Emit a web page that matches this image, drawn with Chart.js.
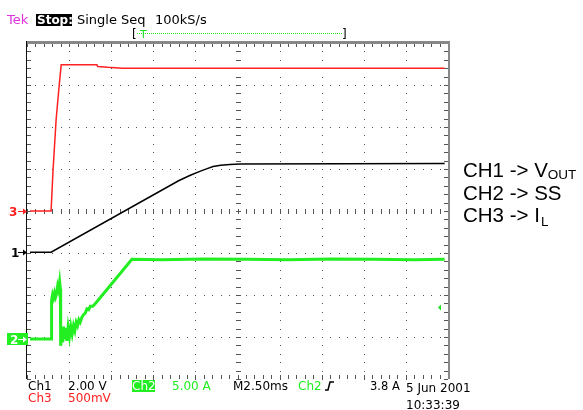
<!DOCTYPE html>
<html>
<head>
<meta charset="utf-8">
<script src="https://cdn.jsdelivr.net/npm/chart.js@4.4.0/dist/chart.umd.min.js"></script>
<style>
  html, body { margin: 0; padding: 0; background: #fff; }
  #wrap { width: 583px; height: 410px; }
</style>
</head>
<body>
<div id="wrap"><canvas id="scopeChart" width="583" height="410"></canvas></div>
<script>
// time axis in ms from the left edge of the screen (M 2.50ms per division)
var msPerDiv = 2.5;

// Ch1 (black), volts
var ch1Time  = [0.18, 1.43, 9.0, 9.7, 10.3, 10.7, 11.05, 11.5, 12.05, 12.65, 24.8];
var ch1Volts = [0,    0,    3.40, 3.66, 3.86, 3.98, 4.08, 4.14, 4.18, 4.20, 4.22];

// Ch2 (green), amps
var ch2Time = [0.18, 1.43, 1.46, 1.52, 1.58, 1.64, 1.70, 1.76, 1.82, 1.88, 1.94, 1.98,
               2.00, 2.06, 2.12, 2.18, 2.24, 2.30, 2.36, 2.44, 2.52, 2.60, 2.68, 2.76,
               2.84, 2.92, 3.00, 3.08, 3.16, 3.26, 3.36, 3.46, 3.56, 3.66, 3.76, 3.90,
               4.05, 6.23, 8.0, 10.5, 13.0, 15.5, 18.0, 20.5, 23.0, 24.8];
var ch2Amps = [0, 0, 4.6, 5.3, 4.9, 5.5, 5.0, 5.4, 6.3, 5.8, 6.8, 6.0,
               -0.8, 1.2, -0.4, 1.5, 0.0, 1.3, -0.2, 1.4, 0.3, 1.5, 0.6, 1.6,
               1.0, 2.0, 1.6, 2.3, 2.0, 2.6, 2.9, 3.1, 3.6, 3.5, 3.9, 3.9,
               4.2, 9.5, 9.45, 9.55, 9.5, 9.45, 9.55, 9.5, 9.45, 9.5];

// Ch3 (red), volts
var ch3Time  = [0.18, 1.43, 1.55, 1.73, 1.90, 2.03, 4.15, 4.2, 4.8, 5.65, 24.8];
var ch3Volts = [0,    0,    0.5,  1.09, 1.47, 1.74, 1.74, 1.72, 1.71, 1.70, 1.70];

// vertical settings: units per division and ground marker position (divisions from bottom)
var ch1PerDiv = 2.00, ch1Ground = 3.02;
var ch2PerDiv = 5.00, ch2Ground = 0.95;
var ch3PerDiv = 0.50, ch3Ground = 4.0;
var trigLevel = 3.8;

function toDivs(times, vals, perDiv, ground) {
    return times.map(function (t, i) {
        return { x: t, y: vals[i] / perDiv + ground };
    });
}

var graticule = {
    id: "graticule",
    beforeDatasetsDraw: function (chart) {
        var ctx = chart.ctx;
        var xs = chart.scales.x, ys = chart.scales.y;
        var a = chart.chartArea;
        var i, j, gx, gy;
        ctx.save();
        ctx.fillStyle = "#555";
        // dotted division lines
        for (i = 1; i < 10; i++) {
            gx = Math.round(xs.getPixelForValue(i * msPerDiv));
            for (j = 0; j <= 40; j++) {
                gy = Math.round(ys.getPixelForValue(j * 0.2));
                ctx.fillRect(gx, gy, 1, 1);
            }
        }
        for (i = 1; i < 8; i++) {
            gy = Math.round(ys.getPixelForValue(i));
            for (j = 0; j <= 50; j++) {
                gx = Math.round(xs.getPixelForValue(j * msPerDiv / 5));
                ctx.fillRect(gx, gy, 1, 1);
            }
        }
        // centre cross ticks
        var cx = Math.round(xs.getPixelForValue(5 * msPerDiv));
        var cy = Math.round(ys.getPixelForValue(4));
        for (j = 0; j <= 40; j++) {
            gy = Math.round(ys.getPixelForValue(j * 0.2));
            ctx.fillRect(cx - 2, gy, 5, 1);
        }
        for (j = 0; j <= 50; j++) {
            gx = Math.round(xs.getPixelForValue(j * msPerDiv / 5));
            ctx.fillRect(gx, cy - 2, 1, 5);
        }
        // edge ticks
        for (j = 0; j <= 50; j++) {
            gx = Math.round(xs.getPixelForValue(j * msPerDiv / 5));
            ctx.fillRect(gx, a.top, 1, 4);
            ctx.fillRect(gx, a.bottom - 4, 1, 4);
        }
        for (j = 0; j <= 40; j++) {
            gy = Math.round(ys.getPixelForValue(j * 0.2));
            ctx.fillRect(a.left, gy, 4, 1);
            ctx.fillRect(a.right - 4, gy, 4, 1);
        }
        // frame
        ctx.fillStyle = "#888";
        ctx.fillRect(a.left, a.top - 2, a.right - a.left + 2, 3);
        ctx.fillRect(a.right, a.top - 2, 2, a.bottom - a.top + 2);
        ctx.fillStyle = "#111";
        ctx.fillRect(a.left - 1, a.top - 2, 1, a.bottom - a.top + 2);
        ctx.restore();
    }
};

function arrow(ctx, x1, x2, y, color) {
    ctx.strokeStyle = color;
    ctx.fillStyle = color;
    ctx.lineWidth = 1;
    ctx.beginPath();
    ctx.moveTo(x1, y + 0.5);
    ctx.lineTo(x2 - 3, y + 0.5);
    ctx.stroke();
    ctx.beginPath();
    ctx.moveTo(x2 - 4, y - 2.5);
    ctx.lineTo(x2, y + 0.5);
    ctx.lineTo(x2 - 4, y + 3.5);
    ctx.closePath();
    ctx.fill();
}

var scopeText = {
    id: "scopeText",
    afterDraw: function (chart) {
        var ctx = chart.ctx;
        var ys = chart.scales.y;
        var a = chart.chartArea;
        ctx.save();
        ctx.textBaseline = "alphabetic";

        // header
        ctx.font = "13px 'DejaVu Sans'";
        ctx.fillStyle = "#e030e0";
        ctx.fillText("Tek", 7, 24);
        ctx.fillStyle = "#000";
        ctx.fillRect(36, 14, 36, 12);
        ctx.font = "bold 12px 'DejaVu Sans'";
        ctx.fillStyle = "#fff";
        ctx.fillText("Stop:", 37, 24);
        ctx.font = "13px 'DejaVu Sans'";
        ctx.fillStyle = "#000";
        ctx.fillText("Single Seq", 77, 24);
        ctx.fillText("100kS/s", 155, 24);

        // record window bracket
        ctx.font = "12px 'DejaVu Sans'";
        ctx.fillText("[", 132, 38);
        ctx.fillText("]", 342, 38);
        ctx.fillStyle = "#22dd22";
        for (var dx = 137; dx < 342; dx += 2) ctx.fillRect(dx, 33, 1, 1);
        ctx.font = "11px 'DejaVu Sans'";
        ctx.fillText("T", 140, 38);

        // ground markers
        var y3 = Math.round(ys.getPixelForValue(ch3Ground));
        var y1 = Math.round(ys.getPixelForValue(ch1Ground));
        var y2 = Math.round(ys.getPixelForValue(ch2Ground));
        ctx.font = "bold 12px 'DejaVu Sans'";
        ctx.fillStyle = "#ff2020";
        ctx.fillText("3", 9, y3 + 5);
        arrow(ctx, 18, 27, y3, "#ff2020");
        ctx.fillStyle = "#000";
        ctx.fillText("1", 11, y1 + 5);
        arrow(ctx, 18, 27, y1, "#000");
        ctx.fillStyle = "#22ee22";
        ctx.fillRect(7, y2 - 6, 21, 12);
        ctx.fillStyle = "#fff";
        ctx.fillText("2", 10, y2 + 5);
        arrow(ctx, 18, 27, y2, "#fff");

        // trigger level marker
        var yt = Math.round(ys.getPixelForValue(trigLevel / ch2PerDiv + ch2Ground));
        ctx.fillStyle = "#22dd22";
        ctx.beginPath();
        ctx.moveTo(a.right - 10, yt + 0.5);
        ctx.lineTo(a.right - 7, yt - 2.5);
        ctx.lineTo(a.right - 7, yt + 3.5);
        ctx.closePath();
        ctx.fill();

        // readout
        ctx.font = "12px 'DejaVu Sans'";
        ctx.fillStyle = "#000";
        ctx.fillText("Ch1", 28, 390);
        ctx.fillText("2.00 V", 68, 390);
        ctx.fillStyle = "#22ee22";
        ctx.fillRect(132, 380, 23, 12);
        ctx.fillStyle = "#fff";
        ctx.fillText("Ch2", 132, 390);
        ctx.fillStyle = "#22ee22";
        ctx.fillText("5.00 A", 172, 390);
        ctx.fillStyle = "#000";
        ctx.fillText("M2.50ms", 233, 390);
        ctx.fillStyle = "#22ee22";
        ctx.fillText("Ch2", 298, 390);
        ctx.strokeStyle = "#000";
        ctx.lineWidth = 1.5;
        ctx.beginPath();
        ctx.moveTo(325, 390);
        ctx.lineTo(328, 390);
        ctx.lineTo(330, 382);
        ctx.lineTo(334, 382);
        ctx.stroke();
        ctx.fillStyle = "#000";
        ctx.font = "11.5px 'DejaVu Sans'";
        ctx.fillText("3.8 A", 370, 390);
        ctx.font = "12px 'DejaVu Sans'";
        ctx.fillStyle = "#ff2020";
        ctx.fillText("Ch3", 28, 402);
        ctx.fillText("500mV", 68, 402);
        ctx.fillStyle = "#000";
        ctx.fillText("5 Jun 2001", 406, 392);
        ctx.fillText("10:33:39", 406, 409);

        // channel legend
        ctx.font = "20.5px 'Liberation Sans'";
        ctx.fillText("CH1 -> V", 463, 177);
        var w = ctx.measureText("CH1 -> V").width;
        ctx.fillText("CH2 -> SS", 463, 200);
        ctx.fillText("CH3 -> I", 463, 222);
        var w3 = ctx.measureText("CH3 -> I").width;
        ctx.font = "13.5px 'Liberation Sans'";
        ctx.fillText("OUT", 463 + w, 179);
        ctx.fillText("L", 463 + w3 + 1, 226);
        ctx.restore();
    }
};

new Chart(document.getElementById("scopeChart"), {
    type: "scatter",
    data: {
        datasets: [
            { data: toDivs(ch3Time, ch3Volts, ch3PerDiv, ch3Ground), borderColor: "#ff2020", borderWidth: 1.5 },
            { data: toDivs(ch1Time, ch1Volts, ch1PerDiv, ch1Ground), borderColor: "#000000", borderWidth: 1.5 },
            { data: toDivs(ch2Time, ch2Amps, ch2PerDiv, ch2Ground), borderColor: "#22ee22", borderWidth: 3 }
        ]
    },
    options: {
        responsive: false,
        animation: false,
        showLine: true,
        elements: { point: { radius: 0 }, line: { tension: 0 } },
        layout: { padding: { left: 27, top: 43, right: 135, bottom: 31 } },
        scales: {
            x: { type: "linear", min: 0, max: 10 * msPerDiv, display: false },
            y: { type: "linear", min: 0, max: 8, display: false }
        },
        plugins: { legend: { display: false }, tooltip: { enabled: false } }
    },
    plugins: [graticule, scopeText]
});
</script>
</body>
</html>
